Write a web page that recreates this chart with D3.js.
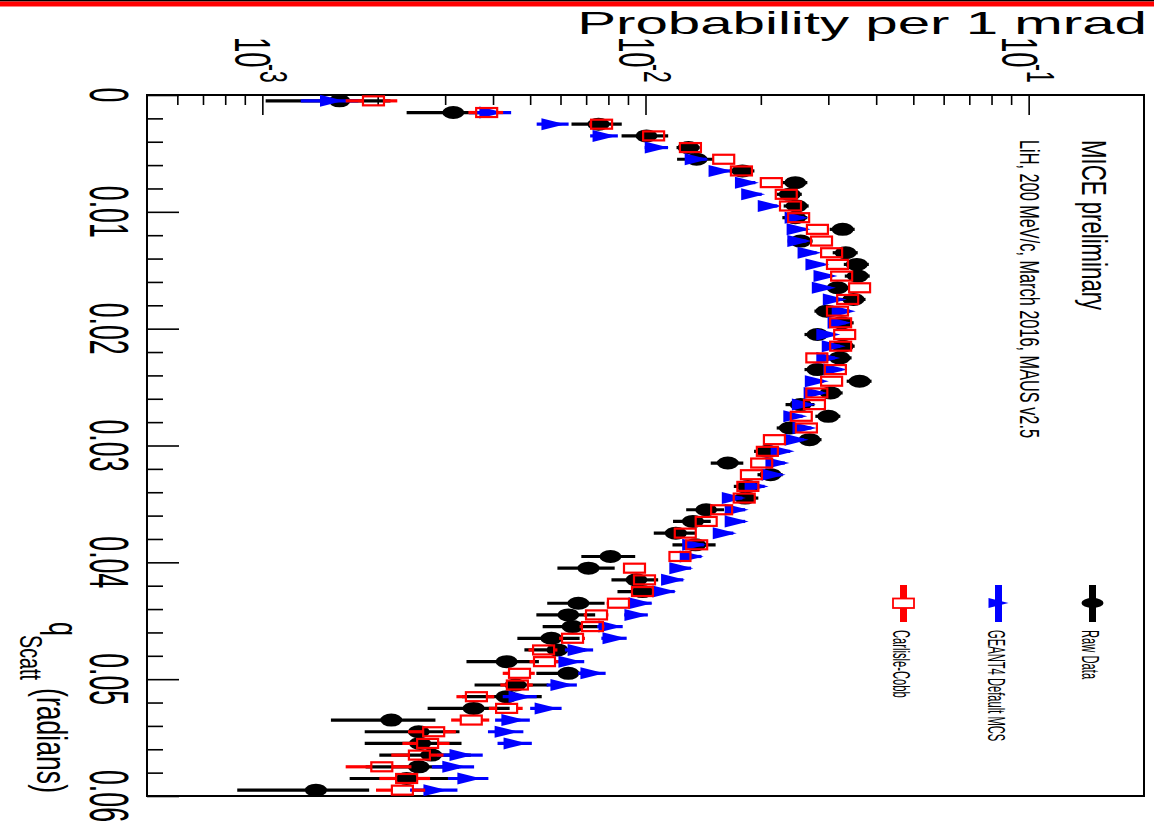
<!DOCTYPE html>
<html>
<head>
<meta charset="utf-8">
<script src="https://cdn.jsdelivr.net/npm/d3@7"></script>
<style>
  body { margin: 0; background: #fff; }
  svg { display: block; }
  text { font-family: "Liberation Sans", Arial, Helvetica, sans-serif; fill: #000; }
</style>
</head>
<body>
<svg id="chart" width="1154" height="825"></svg>
<script>
// Scattering angle bins (1 mrad wide), bin centres in radians
const binCenters = [
  0.0005, 0.0015, 0.0025, 0.0035, 0.0045, 0.0055, 0.0065, 0.0075, 0.0085, 0.0095,
  0.0105, 0.0115, 0.0125, 0.0135, 0.0145, 0.0155, 0.0165, 0.0175, 0.0185, 0.0195,
  0.0205, 0.0215, 0.0225, 0.0235, 0.0245, 0.0255, 0.0265, 0.0275, 0.0285, 0.0295,
  0.0305, 0.0315, 0.0325, 0.0335, 0.0345, 0.0355, 0.0365, 0.0375, 0.0385, 0.0395,
  0.0405, 0.0415, 0.0425, 0.0435, 0.0445, 0.0455, 0.0465, 0.0475, 0.0485, 0.0495,
  0.0505, 0.0515, 0.0525, 0.0535, 0.0545, 0.0555, 0.0565, 0.0575, 0.0585, 0.0595
];

// Raw data: probability per 1 mrad and its uncertainty
const rawData = [
  1.59e-3, 3.15e-3, 7.54e-3, 1.006e-2, 1.295e-2, 1.359e-2, 1.79e-2, 2.46e-2, 2.38e-2, 2.48e-2,
  2.46e-2, 3.27e-2, 2.54e-2, 3.33e-2, 3.56e-2, 3.58e-2, 3.17e-2, 3.49e-2, 2.97e-2, 3.25e-2,
  2.81e-2, 3.27e-2, 3.21e-2, 2.81e-2, 3.62e-2, 3.04e-2, 2.54e-2, 3.00e-2, 2.38e-2, 2.68e-2,
  2.08e-2, 1.64e-2, 2.12e-2, 1.85e-2, 1.82e-2, 1.44e-2, 1.33e-2, 1.20e-2, 1.35e-2, 8.10e-3,
  7.10e-3, 9.47e-3, 9.82e-3, 6.68e-3, 6.29e-3, 6.45e-3, 5.68e-3, 5.89e-3, 4.34e-3, 6.29e-3,
  4.58e-3, 4.34e-3, 3.56e-3, 2.17e-3, 2.56e-3, 2.58e-3, 2.76e-3, 2.56e-3, 2.38e-3, 1.38e-3
];
const rawErr = [
  0.57e-3, 0.77e-3, 1.13e-3, 1.40e-3, 0.90e-3, 1.50e-3, 1.34e-3, 1.85e-3, 1.78e-3, 1.86e-3,
  1.84e-3, 2.45e-3, 1.90e-3, 2.50e-3, 2.67e-3, 2.68e-3, 2.38e-3, 2.62e-3, 2.10e-3, 2.44e-3,
  2.10e-3, 2.45e-3, 2.40e-3, 2.10e-3, 2.70e-3, 2.30e-3, 2.20e-3, 2.25e-3, 1.80e-3, 2.00e-3,
  1.60e-3, 1.60e-3, 1.60e-3, 1.50e-3, 1.50e-3, 1.63e-3, 1.50e-3, 1.49e-3, 1.74e-3, 1.30e-3,
  1.21e-3, 1.32e-3, 1.37e-3, 1.14e-3, 1.10e-3, 1.06e-3, 1.05e-3, 1.06e-3, 0.93e-3, 1.10e-3,
  1.00e-3, 1.02e-3, 0.86e-3, 0.66e-3, 0.71e-3, 0.73e-3, 0.74e-3, 0.70e-3, 0.69e-3, 0.52e-3
];

// GEANT4 default multiple Coulomb scattering model
const geantData = [
  1.52e-3, 3.96e-3, 5.75e-3, 7.82e-3, 1.07e-2, 1.36e-2, 1.57e-2, 1.84e-2, 1.91e-2, 2.11e-2,
  2.48e-2, 2.51e-2, 2.52e-2, 2.68e-2, 2.81e-2, 2.95e-2, 2.92e-2, 3.12e-2, 3.29e-2, 3.21e-2,
  3.00e-2, 3.10e-2, 3.00e-2, 3.13e-2, 2.80e-2, 2.78e-2, 2.59e-2, 2.46e-2, 2.60e-2, 2.48e-2,
  2.28e-2, 2.21e-2, 2.16e-2, 1.95e-2, 1.70e-2, 1.73e-2, 1.73e-2, 1.61e-2, 1.34e-2, 1.32e-2,
  1.24e-2, 1.18e-2, 1.12e-2, 9.70e-3, 9.47e-3, 8.10e-3, 8.30e-3, 6.73e-3, 6.37e-3, 7.27e-3,
  6.07e-3, 4.72e-3, 5.52e-3, 4.52e-3, 4.34e-3, 4.58e-3, 3.31e-3, 3.17e-3, 3.47e-3, 2.83e-3
];
const geantErr = [
  0.26e-3, 0.50e-3, 0.55e-3, 0.65e-3, 0.75e-3, 0.85e-3, 0.90e-3, 0.95e-3, 1.00e-3, 1.00e-3,
  1.10e-3, 1.10e-3, 1.10e-3, 1.15e-3, 1.15e-3, 1.20e-3, 1.20e-3, 1.20e-3, 1.25e-3, 1.20e-3,
  1.20e-3, 1.20e-3, 1.20e-3, 1.20e-3, 1.15e-3, 1.15e-3, 1.10e-3, 1.10e-3, 1.10e-3, 1.10e-3,
  1.05e-3, 1.00e-3, 1.00e-3, 0.95e-3, 0.90e-3, 0.90e-3, 0.90e-3, 0.85e-3, 0.80e-3, 0.80e-3,
  0.75e-3, 0.75e-3, 0.72e-3, 0.68e-3, 0.67e-3, 0.62e-3, 0.63e-3, 0.57e-3, 0.55e-3, 0.60e-3,
  0.55e-3, 0.48e-3, 0.52e-3, 0.47e-3, 0.46e-3, 0.47e-3, 0.45e-3, 0.40e-3, 0.42e-3, 0.40e-3
];

// Carlisle-Cobb scattering model
const cobbData = [
  1.95e-3, 3.85e-3, 7.68e-3, 1.05e-2, 1.31e-2, 1.60e-2, 1.78e-2, 2.13e-2, 2.33e-2, 2.39e-2,
  2.51e-2, 2.81e-2, 2.88e-2, 3.06e-2, 3.17e-2, 3.25e-2, 3.62e-2, 3.37e-2, 3.17e-2, 3.23e-2,
  3.31e-2, 3.23e-2, 2.80e-2, 3.13e-2, 3.06e-2, 2.80e-2, 2.76e-2, 2.55e-2, 2.63e-2, 2.17e-2,
  2.08e-2, 2.01e-2, 1.89e-2, 1.85e-2, 1.81e-2, 1.58e-2, 1.44e-2, 1.27e-2, 1.36e-2, 1.23e-2,
  9.36e-3, 9.94e-3, 9.82e-3, 8.50e-3, 7.45e-3, 7.27e-3, 6.45e-3, 5.42e-3, 5.45e-3, 4.69e-3,
  4.63e-3, 3.62e-3, 4.34e-3, 3.51e-3, 2.80e-3, 2.70e-3, 2.57e-3, 2.05e-3, 2.38e-3, 2.32e-3
];
const cobbErr = [
  0.30e-3, 0.40e-3, 0.55e-3, 0.65e-3, 0.70e-3, 0.80e-3, 0.85e-3, 0.90e-3, 0.95e-3, 0.95e-3,
  1.00e-3, 1.05e-3, 1.05e-3, 1.10e-3, 1.10e-3, 1.10e-3, 1.20e-3, 1.15e-3, 1.10e-3, 1.10e-3,
  1.10e-3, 1.10e-3, 1.05e-3, 1.10e-3, 1.10e-3, 1.05e-3, 1.05e-3, 1.00e-3, 1.00e-3, 0.95e-3,
  0.90e-3, 0.90e-3, 0.85e-3, 0.85e-3, 0.85e-3, 0.80e-3, 0.75e-3, 0.70e-3, 0.72e-3, 0.68e-3,
  0.60e-3, 0.62e-3, 0.62e-3, 0.58e-3, 0.55e-3, 0.54e-3, 0.50e-3, 0.47e-3, 0.47e-3, 0.45e-3,
  0.45e-3, 0.41e-3, 0.44e-3, 0.40e-3, 0.40e-3, 0.38e-3, 0.40e-3, 0.40e-3, 0.36e-3, 0.34e-3
];

// Axis ticks and labels
const thetaMajor = [0, 0.01, 0.02, 0.03, 0.04, 0.05, 0.06];
const thetaLabels = ["0", "0.01", "0.02", "0.03", "0.04", "0.05", "0.06"];
const thetaMinor = [0.002, 0.004, 0.006, 0.008, 0.012, 0.014, 0.016, 0.018, 0.022, 0.024, 0.026, 0.028,
                    0.032, 0.034, 0.036, 0.038, 0.042, 0.044, 0.046, 0.048, 0.052, 0.054, 0.056, 0.058];
const probMajor = [1e-3, 1e-2, 1e-1];
const probExponents = ["-3", "-2", "-1"];
const probMinor = [6e-4, 7e-4, 8e-4, 9e-4,
                   2e-3, 3e-3, 4e-3, 5e-3, 6e-3, 7e-3, 8e-3, 9e-3,
                   2e-2, 3e-2, 4e-2, 5e-2, 6e-2, 7e-2, 8e-2, 9e-2];

const legendNames = ["Raw Data", "GEANT4 Default MCS", "Carlisle-Cobb"];

const svg = d3.select("#chart");
const plotL = 147, plotR = 1144, plotT = 95, plotB = 796;

// Probability runs across the page (log), scattering angle runs down the page
const x = d3.scaleLog().domain([5e-4, 0.2]).range([plotL, plotR]);
const y = d3.scaleLinear().domain([0, 0.06]).range([plotT, plotB]);

// Banner strip along the top edge
svg.append("rect").attr("x", 0).attr("y", 0).attr("width", 1154).attr("height", 1.5).attr("fill", "#000");
svg.append("rect").attr("x", 0).attr("y", 1.5).attr("width", 1154).attr("height", 5).attr("fill", "#ff0000");

// Text helpers: rotated text reads top-to-bottom, glyphs stretched across the page
function vtext(g, px, py, str, size, k, anchor) {
  return g.append("text")
    .attr("transform", `translate(${px},${py}) rotate(90) scale(1,${k})`)
    .attr("font-size", size)
    .attr("text-anchor", anchor || "start")
    .text(str);
}
function htext(g, px, py, str, size, k, anchor) {
  return g.append("text")
    .attr("transform", `translate(${px},${py}) scale(${k},1)`)
    .attr("font-size", size)
    .attr("text-anchor", anchor || "start")
    .text(str);
}

// Axis ticks
function styleAxis(g) {
  g.select(".domain").remove();
  g.selectAll(".tick line").attr("stroke", "#000").attr("stroke-width", 1.6);
}
svg.append("g").attr("transform", `translate(0,${plotT})`)
  .call(d3.axisBottom(x).tickValues(probMinor).tickSize(10).tickFormat(""))
  .call(styleAxis);
svg.append("g").attr("transform", `translate(0,${plotT})`)
  .call(d3.axisBottom(x).tickValues(probMajor).tickSize(20).tickFormat(""))
  .call(styleAxis);
svg.append("g").attr("transform", `translate(${plotL},0)`)
  .call(d3.axisRight(y).tickValues(thetaMinor).tickSize(16).tickFormat(""))
  .call(styleAxis);
svg.append("g").attr("transform", `translate(${plotL},0)`)
  .call(d3.axisRight(y).tickValues(thetaMajor).tickSize(32).tickFormat(""))
  .call(styleAxis);

// Frame
svg.append("rect")
  .attr("x", plotL).attr("y", plotT)
  .attr("width", plotR - plotL).attr("height", plotB - plotT)
  .attr("fill", "none").attr("stroke", "#000").attr("stroke-width", 2);

// Tick labels
const labels = svg.append("g");
thetaMajor.forEach((t, i) => {
  vtext(labels, 90, y(t), thetaLabels[i], 26.7, 2.05, "middle");
});
probMajor.forEach((p, i) => {
  const cx = x(p);
  vtext(labels, cx - 27, 37, "10", 27.5, 1.85, "start");
  vtext(labels, cx - 2, 64, probExponents[i], 21, 1.85, "start");
});

// Axis titles
htext(labels, 1147, 34, "Probability per 1 mrad", 31, 1.88, "end");
vtext(labels, 37, 793, "(radians)", 26.6, 1.63, "end");
vtext(labels, 20, 635, "Scatt", 19.7, 1.63, "start");
vtext(labels, 49, 622, "q", 25, 1.7, "start");

// Annotation
vtext(labels, 1082, 140, "MICE preliminary", 22.2, 1.57, "start");
vtext(labels, 1020, 140, "LiH, 200 MeV/c, March 2016, MAUS v2.5", 16.3, 1.71, "start");

// Marker geometry
const ellRx = 11, ellRy = 6.5;
const triW = 24, triH = 12;
const boxW = 21, boxH = 9;

function series(vals, errs) {
  return binCenters.map((t, i) => ({ t, v: vals[i], e: errs[i] }));
}
const rawPts = series(rawData, rawErr);
const geantPts = series(geantData, geantErr);
const cobbPts = series(cobbData, cobbErr);

// Raw data: black error bars + filled ellipses
const gRaw = svg.append("g");
gRaw.selectAll("line").data(rawPts).join("line")
  .attr("x1", d => x(d.v - d.e)).attr("x2", d => x(d.v + d.e))
  .attr("y1", d => y(d.t)).attr("y2", d => y(d.t))
  .attr("stroke", "#000").attr("stroke-width", 3.2);
gRaw.selectAll("ellipse").data(rawPts).join("ellipse")
  .attr("cx", d => x(d.v)).attr("cy", d => y(d.t))
  .attr("rx", ellRx).attr("ry", ellRy).attr("fill", "#000");

// GEANT4: blue error bars + filled triangles
const gGeant = svg.append("g");
gGeant.selectAll("line").data(geantPts).join("line")
  .attr("x1", d => x(d.v - d.e)).attr("x2", d => x(d.v + d.e))
  .attr("y1", d => y(d.t)).attr("y2", d => y(d.t))
  .attr("stroke", "#0000ff").attr("stroke-width", 3.2);
gGeant.selectAll("path").data(geantPts).join("path")
  .attr("d", d => {
    const cx = x(d.v), cy = y(d.t);
    return `M${cx - triW / 2},${cy - triH / 2}L${cx + triW / 2},${cy}L${cx - triW / 2},${cy + triH / 2}Z`;
  })
  .attr("fill", "#0000ff");

// Carlisle-Cobb: red error bars (outside the marker) + open boxes
const gCobb = svg.append("g");
gCobb.selectAll("line.lo").data(cobbPts).join("line").attr("class", "lo")
  .attr("x1", d => x(d.v - d.e)).attr("x2", d => Math.max(x(d.v - d.e), x(d.v) - boxW / 2))
  .attr("y1", d => y(d.t)).attr("y2", d => y(d.t))
  .attr("stroke", "#ff0000").attr("stroke-width", 3.2);
gCobb.selectAll("line.hi").data(cobbPts).join("line").attr("class", "hi")
  .attr("x1", d => Math.min(x(d.v + d.e), x(d.v) + boxW / 2)).attr("x2", d => x(d.v + d.e))
  .attr("y1", d => y(d.t)).attr("y2", d => y(d.t))
  .attr("stroke", "#ff0000").attr("stroke-width", 3.2);
gCobb.selectAll("rect").data(cobbPts).join("rect")
  .attr("x", d => x(d.v) - boxW / 2).attr("y", d => y(d.t) - boxH / 2)
  .attr("width", boxW).attr("height", boxH)
  .attr("fill", "none").attr("stroke", "#ff0000").attr("stroke-width", 2.2);

// Legend
const legend = svg.append("g");
const legendX = [1092.5, 998.5, 903.5];
const legendColors = ["#000", "#0000ff", "#ff0000"];
legendNames.forEach((name, i) => {
  const lx = legendX[i];
  legend.append("rect").attr("x", lx - 3.5).attr("y", 585).attr("width", 7).attr("height", 37)
    .attr("fill", legendColors[i]);
  if (i === 0) {
    legend.append("ellipse").attr("cx", lx).attr("cy", 603).attr("rx", ellRx).attr("ry", 5).attr("fill", "#000");
  } else if (i === 1) {
    legend.append("path")
      .attr("d", `M${lx - 10},${598}L${lx + 10},${603}L${lx - 10},${608}Z`)
      .attr("fill", "#0000ff");
  } else {
    legend.append("rect").attr("x", lx - 10.5).attr("y", 598.5).attr("width", 21).attr("height", 9.5)
      .attr("fill", "#fff").attr("stroke", "#ff0000").attr("stroke-width", 1.8);
  }
  vtext(legend, lx - 10.5, 630, name, 11.2, 2.15, "start");
});
</script>
</body>
</html>
